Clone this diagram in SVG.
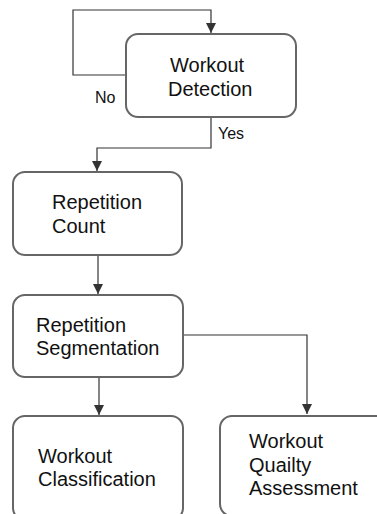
<svg xmlns="http://www.w3.org/2000/svg" width="377" height="514" viewBox="0 0 377 514">
<defs>
<style>
.box{fill:#fff;stroke:#666;stroke-width:2}
.t{font-family:"Liberation Sans",Arial,sans-serif;font-size:20px;fill:#111}
.lbl{font-family:"Liberation Sans",Arial,sans-serif;font-size:16px;fill:#111}
.c{fill:none;stroke:#333;stroke-width:1.2}
</style>
<marker id="ah" viewBox="0 0 10 10" refX="10" refY="5" markerWidth="10" markerHeight="10" markerUnits="userSpaceOnUse" orient="auto">
<path d="M0,0 L10,5 L0,10 Z" fill="#333"/>
</marker>
</defs>
<rect width="377" height="514" fill="#fff"/>
<g id="connectors">
<path class="c" d="M126,75 H73 V10 H211 V33" marker-end="url(#ah)"/>
<path class="c" d="M211,117 V148 H97 V171" marker-end="url(#ah)"/>
<path class="c" d="M98,255 V294" marker-end="url(#ah)"/>
<path class="c" d="M183,335 H307 V414" marker-end="url(#ah)"/>
<path class="c" d="M99,377 V415" marker-end="url(#ah)"/>
<text class="lbl" x="95" y="103">No</text>
<text class="lbl" x="218" y="139">Yes</text>
</g>
<g id="workout-detection">
<rect class="box" x="126" y="34" width="170" height="83" rx="12"/>
<text class="t" x="170" y="72">Workout</text>
<text class="t" x="168" y="96">Detection</text>
</g>
<g id="repetition-count">
<rect class="box" x="13" y="172" width="169" height="83" rx="12"/>
<text class="t" x="52" y="209">Repetition</text>
<text class="t" x="52" y="233">Count</text>
</g>
<g id="repetition-segmentation">
<rect class="box" x="13" y="295" width="170" height="82" rx="12"/>
<text class="t" x="36" y="332">Repetition</text>
<text class="t" x="36" y="355">Segmentation</text>
</g>
<g id="workout-classification">
<rect class="box" x="13" y="416" width="170" height="104" rx="12"/>
<text class="t" x="38" y="463">Workout</text>
<text class="t" x="38" y="486">Classification</text>
</g>
<g id="workout-quality-assessment">
<rect class="box" x="220" y="416" width="180" height="100" rx="12"/>
<text class="t" x="249" y="448">Workout</text>
<text class="t" x="249" y="472">Quailty</text>
<text class="t" x="249" y="495">Assessment</text>
</g>
</svg>
